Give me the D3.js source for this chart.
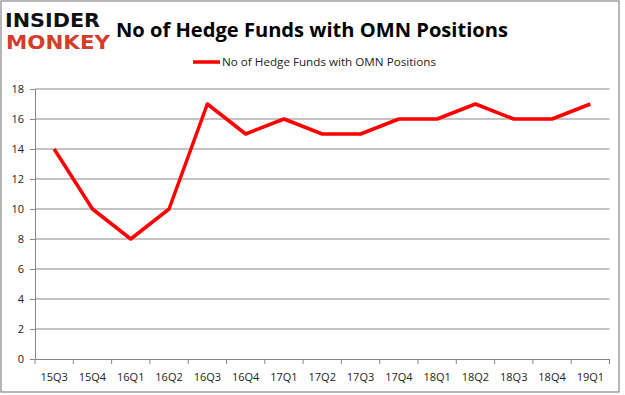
<!DOCTYPE html>
<html>
<head>
<meta charset="utf-8">
<script src="https://cdn.jsdelivr.net/npm/d3@7"></script>
<style>
  body { margin: 0; background: #fff; }
  svg { display: block; }
  text { font-family: "Open Sans", "Liberation Sans", sans-serif; }
  .logo { font-family: "DejaVu Sans", sans-serif; font-weight: bold; }
</style>
</head>
<body>
<svg id="chart" width="625" height="395"></svg>
<script>
// chart data
var quarters = ["15Q3", "15Q4", "16Q1", "16Q2", "16Q3", "16Q4", "17Q1", "17Q2",
                "17Q3", "17Q4", "18Q1", "18Q2", "18Q3", "18Q4", "19Q1"];
var fund_counts = [14, 10, 8, 10, 17, 15, 16, 15, 15, 16, 16, 17, 16, 16, 17];
var y_ticks = [0, 2, 4, 6, 8, 10, 12, 14, 16, 18];
var chart_title = "No of Hedge Funds with OMN Positions";
var legend_label = "No of Hedge Funds with OMN Positions";

var plot_left = 35, plot_right = 609.5, plot_top = 89, plot_bottom = 359;

function draw_chart()
{
  var svg = d3.select("#chart");

  // outer border
  svg.append("rect")
    .attr("x", 1).attr("y", 1)
    .attr("width", 618).attr("height", 391)
    .attr("fill", "#fff")
    .attr("stroke", "#878787")
    .attr("stroke-width", 1.2);

  // logo
  svg.append("text")
    .classed("logo", true)
    .attr("x", 5).attr("y", 27)
    .attr("textLength", 95).attr("lengthAdjust", "spacingAndGlyphs")
    .style("font-size", "20px")
    .attr("fill", "#111")
    .text("INSIDER");
  svg.append("text")
    .classed("logo", true)
    .attr("x", 6).attr("y", 49)
    .attr("textLength", 104).attr("lengthAdjust", "spacingAndGlyphs")
    .style("font-size", "20px")
    .attr("fill", "#d43d2a")
    .text("MONKEY");

  // title
  svg.append("text")
    .attr("x", 116).attr("y", 37)
    .attr("textLength", 392).attr("lengthAdjust", "spacingAndGlyphs")
    .style("font-weight", "bold")
    .style("font-size", "20px")
    .attr("fill", "#000")
    .text(chart_title);

  var x = d3.scaleBand().domain(quarters).range([plot_left, plot_right]);
  var y = d3.scaleLinear().domain([0, 18]).range([plot_bottom, plot_top]);

  // gridlines
  svg.append("g")
    .selectAll("line")
    .data(y_ticks.filter(function(d) { return d > 0; }))
    .enter()
    .append("line")
    .attr("x1", plot_left).attr("x2", plot_right)
    .attr("y1", function(d) { return y(d); })
    .attr("y2", function(d) { return y(d); })
    .attr("stroke", "#878787")
    .attr("stroke-width", 1);

  // y axis
  var y_axis = svg.append("g")
    .attr("transform", "translate(" + plot_left + ",0)")
    .call(d3.axisLeft(y).tickValues(y_ticks).tickSize(5).tickPadding(6));
  y_axis.select(".domain").attr("stroke", "#878787");
  y_axis.selectAll(".tick line").attr("stroke", "#878787");
  y_axis.selectAll("text")
    .style("font-size", "11px")
    .attr("fill", "#222");

  // x axis
  var x_axis = svg.append("g")
    .attr("transform", "translate(0," + plot_bottom + ")")
    .call(d3.axisBottom(x).tickSize(0).tickPadding(14));
  x_axis.select(".domain").attr("stroke", "#878787");
  x_axis.selectAll("text")
    .style("font-size", "11px")
    .attr("fill", "#222");

  // x tick marks at band edges
  svg.append("g")
    .selectAll("line")
    .data(quarters.concat(["end"]))
    .enter()
    .append("line")
    .attr("x1", function(d, i) { return plot_left + i * x.step(); })
    .attr("x2", function(d, i) { return plot_left + i * x.step(); })
    .attr("y1", plot_bottom).attr("y2", plot_bottom + 5)
    .attr("stroke", "#878787");

  // the series line
  var line = d3.line()
    .x(function(d, i) { return x(quarters[i]) + x.bandwidth() / 2; })
    .y(function(d) { return y(d); });

  svg.append("path")
    .datum(fund_counts)
    .attr("d", line)
    .attr("fill", "none")
    .attr("stroke", "#ff0000")
    .attr("stroke-width", 3.5)
    .attr("stroke-linejoin", "round");

  // legend
  svg.append("line")
    .attr("x1", 193).attr("x2", 220)
    .attr("y1", 62).attr("y2", 62)
    .attr("stroke", "#ff0000")
    .attr("stroke-width", 3.5);
  svg.append("text")
    .attr("x", 222).attr("y", 66)
    .attr("textLength", 214).attr("lengthAdjust", "spacingAndGlyphs")
    .style("font-size", "11.5px")
    .attr("fill", "#222")
    .text(legend_label);
}

draw_chart();
</script>
</body>
</html>
